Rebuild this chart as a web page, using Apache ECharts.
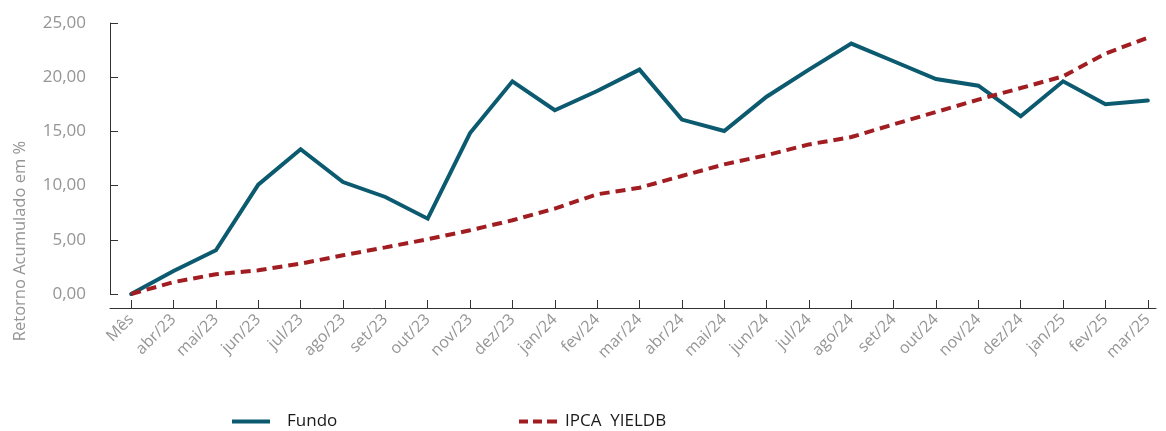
<!DOCTYPE html>
<html>
<head>
<meta charset="utf-8">
<script src="https://cdn.jsdelivr.net/npm/echarts@6/dist/echarts.min.js"></script>
<style>
html,body{margin:0;padding:0;background:#fff;}
#chart{width:1166px;height:431px;}
</style>
</head>
<body>
<div id="chart"></div>
<script>
const categories = ['Mês','abr/23','mai/23','jun/23','jul/23','ago/23','set/23','out/23','nov/23','dez/23','jan/24','fev/24','mar/24','abr/24','mai/24','jun/24','jul/24','ago/24','set/24','out/24','nov/24','dez/24','jan/25','fev/25','mar/25'];
const fundo = [0, 2.12, 4.03, 10.09, 13.35, 10.33, 8.95, 6.95, 14.85, 19.62, 16.95, 18.73, 20.7, 16.09, 15.04, 18.2, 20.7, 23.1, 21.47, 19.83, 19.22, 16.39, 19.62, 17.5, 17.84];
const ipca = [0, 1.1, 1.82, 2.19, 2.8, 3.57, 4.3, 5.05, 5.88, 6.8, 7.88, 9.2, 9.8, 10.89, 11.96, 12.8, 13.8, 14.48, 15.65, 16.79, 17.93, 19.0, 20.08, 22.18, 23.65];
const yTickLabels = ['0,00','5,00','10,00','15,00','20,00','25,00'];
const seriesNames = ['Fundo', 'IPCA  YIELDB'];
const yAxisTitle = 'Retorno Acumulado em %';

const gray = '#959595';
const font = 'Open Sans';
const chart = echarts.init(document.getElementById('chart'), null, {renderer:'canvas'});
chart.setOption({
  animation: false,
  backgroundColor: '#fff',
  grid: [
    {left: 110, top: 23, width: 1059, height: 271, containLabel: false, outerBoundsMode: 'none'},
    {left: 110, top: 23, width: 1046, height: 271, containLabel: false, outerBoundsMode: 'none'}
  ],
  xAxis: [
    {
      type: 'category', gridIndex: 0, data: categories, boundaryGap: true, offset: 14,
      axisLine: {show: false, onZero: false},
      axisTick: {show: true, inside: true, length: 8, alignWithLabel: true, lineStyle: {color: '#333', width: 1}},
      axisLabel: {rotate: 45, margin: 9, fontSize: 16, fontFamily: font, color: gray, interval: 0}
    },
    {
      type: 'value', gridIndex: 1, min: 0, max: 1, offset: 14,
      axisLine: {show: true, onZero: false, lineStyle: {color: '#333', width: 1}},
      axisTick: {show: false}, axisLabel: {show: false}, splitLine: {show: false}
    }
  ],
  yAxis: [
    {
      type: 'value', gridIndex: 0, min: 0, max: 25, interval: 5,
      axisLine: {show: true, onZero: false, lineStyle: {color: '#333', width: 1}},
      axisTick: {show: true, inside: true, length: 8, lineStyle: {color: '#333', width: 1}},
      splitLine: {show: false},
      axisLabel: {margin: 24, fontSize: 17, fontFamily: font, color: gray,
        formatter: v => yTickLabels[Math.round(v / 5)]}
    },
    {type: 'value', gridIndex: 1, show: false, min: 0, max: 1}
  ],
  legend: [
    {
      data: [{name: seriesNames[0], icon: 'path://M0,0h38v4h-38z'}], left: 232, top: 413, padding: 0, itemWidth: 38, itemHeight: 4, itemGap: 0,
      textStyle: {fontSize: 17, fontFamily: font, color: '#1a1a1a', padding: [0, 0, 0, 12]}
    },
    {
      data: [{name: seriesNames[1], icon: 'path://M0,0h9v4h-9zM14,0h9v4h-9zM28,0h10v4h-10z'}], left: 519, top: 413, padding: 0, itemWidth: 38, itemHeight: 4, itemGap: 0,
      textStyle: {fontSize: 17, fontFamily: font, color: '#1a1a1a', padding: [0, 0, 0, 3]}
    }
  ],
  graphic: [
    {type: 'text', x: 20, y: 241, rotation: Math.PI / 2,
      style: {text: yAxisTitle, fontSize: 16.5, fontFamily: font, fill: gray, textAlign: 'center', textVerticalAlign: 'middle'}}
  ],
  series: [
    {
      name: seriesNames[0], type: 'line', xAxisIndex: 0, yAxisIndex: 0, data: fundo,
      symbol: 'none', smooth: false,
      lineStyle: {color: '#0b5a6f', width: 4, cap: 'round', join: 'miter'},
      itemStyle: {color: '#0b5a6f'}
    },
    {
      name: seriesNames[1], type: 'line', xAxisIndex: 0, yAxisIndex: 0, data: ipca,
      symbol: 'none', smooth: false,
      lineStyle: {color: '#a11d21', width: 4, type: [10, 6]},
      itemStyle: {color: '#a11d21'}
    }
  ]
});
</script>
</body>
</html>
